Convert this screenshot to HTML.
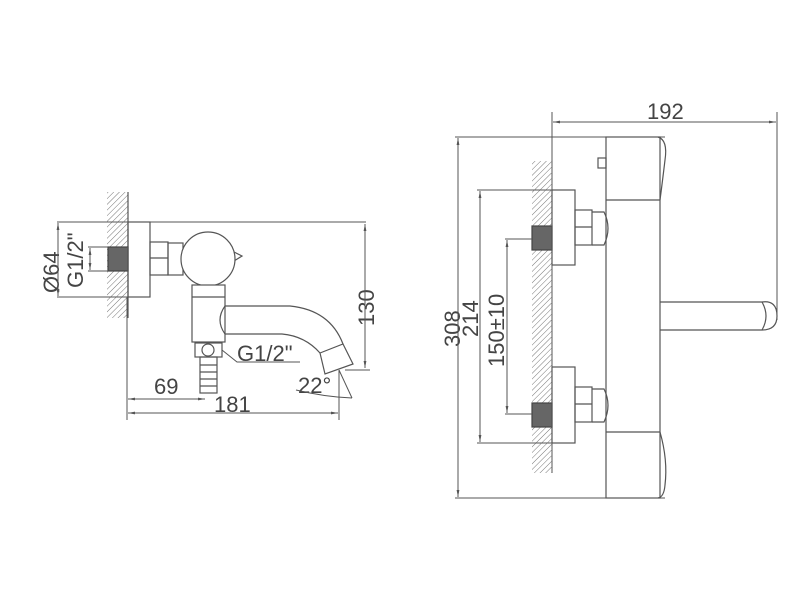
<!DOCTYPE html>
<html><head><style>body{margin:0;background:#fff}svg{display:block}</style></head><body>
<svg width="800" height="600" viewBox="0 0 800 600" xmlns="http://www.w3.org/2000/svg" font-family="Liberation Sans, sans-serif" fill="none" stroke="#555" stroke-width="1.2">
<defs>
<pattern id="h" width="4" height="4" patternUnits="userSpaceOnUse" patternTransform="rotate(45)"><line x1="0" y1="0" x2="0" y2="4" stroke="#777" stroke-width="1"/></pattern>
<marker id="a" viewBox="0 0 10 10" refX="10" refY="5" markerWidth="7" markerHeight="7" orient="auto-start-reverse"><path d="M0,3L10,5L0,7z" fill="#555" stroke="none"/></marker>
</defs>
<g font-size="22" fill="#444" stroke="none">
<text transform="translate(59,293) rotate(-90)">Ø64</text>
<text transform="translate(83,288) rotate(-90)">G1/2"</text>
<text x="237" y="361">G1/2"</text>
<text transform="translate(374,326) rotate(-90)">130</text>
<text x="298" y="393">22°</text>
<text x="154" y="394">69</text>
<text x="214" y="412">181</text>
<text x="647" y="119">192</text>
<text transform="translate(460,347) rotate(-90)">308</text>
<text transform="translate(478,337) rotate(-90)">214</text>
<text transform="translate(504,367) rotate(-90)">150±10</text>
</g>
<!-- LEFT VIEW -->
<rect x="107" y="192" width="21" height="126" fill="url(#h)" stroke="none"/>
<line x1="128" y1="192" x2="128" y2="318"/>
<rect x="108" y="247" width="20" height="24" fill="#666" stroke="#444"/>
<rect x="128" y="222" width="22" height="75"/>
<line x1="57" y1="222" x2="366" y2="222" stroke-width="1"/>
<line x1="57" y1="297" x2="128" y2="297" stroke-width="1"/>
<line x1="58" y1="223" x2="58" y2="296" marker-start="url(#a)" marker-end="url(#a)" stroke-width="1"/>
<line x1="88" y1="247" x2="108" y2="247" stroke-width="1"/>
<line x1="88" y1="271" x2="108" y2="271" stroke-width="1"/>
<line x1="90" y1="248" x2="90" y2="270" marker-start="url(#a)" marker-end="url(#a)" stroke-width="1"/>
<rect x="150" y="242" width="18" height="33"/>
<line x1="150" y1="258" x2="168" y2="258"/>
<rect x="168" y="243" width="15" height="32"/>
<path d="M234,252 l8,4 l-8,5"/>
<circle cx="208" cy="259" r="27" fill="#fff"/>
<rect x="192" y="285" width="33" height="57" fill="#fff"/>
<line x1="192" y1="297" x2="225" y2="297"/>
<path d="M225,306 L290,306 Q330,310 343,344"/>
<path d="M225,334 L282,334 Q305,336 320,353"/>
<path d="M225,306 Q215,320 225,334" />
<polygon points="320,353 343,344 353,364 325,374" fill="#fff"/>
<rect x="195" y="343" width="27" height="14"/>
<circle cx="208" cy="350" r="6"/>
<rect x="200" y="357" width="17" height="36"/>
<path d="M200,365h17M200,372h17M200,379h17M200,386h17"/>
<path d="M222,350 L237,362 L300,362" stroke-width="1"/>
<line x1="365" y1="224" x2="365" y2="368" marker-start="url(#a)" marker-end="url(#a)" stroke-width="1"/>
<line x1="345" y1="370" x2="370" y2="370" stroke-width="1"/>
<line x1="339" y1="370" x2="339" y2="420" stroke-width="1"/>
<path d="M339,370 L352,398" stroke-width="1"/>
<path d="M296,390 Q325,397 352,398" stroke-width="1"/>
<line x1="127" y1="297" x2="127" y2="420" stroke-width="1"/>
<line x1="128" y1="399" x2="205" y2="399" marker-start="url(#a)" marker-end="url(#a)" stroke-width="1"/>
<line x1="128" y1="413" x2="338" y2="413" marker-start="url(#a)" marker-end="url(#a)" stroke-width="1"/>
<!-- RIGHT VIEW -->
<line x1="552" y1="112" x2="552" y2="473" stroke-width="1"/>
<line x1="777" y1="112" x2="777" y2="320" stroke-width="1"/>
<line x1="553" y1="122" x2="776" y2="122" marker-start="url(#a)" marker-end="url(#a)" stroke-width="1"/>
<line x1="455" y1="137" x2="665" y2="137" stroke-width="1"/>
<line x1="455" y1="498" x2="665" y2="498" stroke-width="1"/>
<line x1="458" y1="138" x2="458" y2="497" marker-start="url(#a)" marker-end="url(#a)" stroke-width="1"/>
<rect x="532" y="161" width="20" height="312" fill="url(#h)" stroke="none"/>
<rect x="532" y="226" width="20" height="24" fill="#666" stroke="#444"/>
<rect x="532" y="403" width="20" height="24" fill="#666" stroke="#444"/>
<line x1="477" y1="190" x2="575" y2="190" stroke-width="1"/>
<line x1="477" y1="443" x2="575" y2="443" stroke-width="1"/>
<line x1="480" y1="191" x2="480" y2="442" marker-start="url(#a)" marker-end="url(#a)" stroke-width="1"/>
<line x1="505" y1="239" x2="532" y2="239" stroke-width="1"/>
<line x1="505" y1="414" x2="532" y2="414" stroke-width="1"/>
<line x1="507" y1="240" x2="507" y2="413" marker-start="url(#a)" marker-end="url(#a)" stroke-width="1"/>
<rect x="552" y="190" width="23" height="75"/>
<rect x="552" y="367" width="23" height="76"/>
<rect x="575" y="210" width="17" height="35"/><line x1="575" y1="227" x2="592" y2="227"/>
<rect x="575" y="387" width="17" height="35"/><line x1="575" y1="404" x2="592" y2="404"/>
<path d="M592,212 L604,212 Q612,228 604,245 L592,245"/>
<path d="M592,389 L604,389 Q612,405 604,422 L592,422"/>
<rect x="606" y="137" width="54" height="361"/>
<line x1="606" y1="200" x2="660" y2="200"/>
<line x1="606" y1="432" x2="660" y2="432"/>
<path d="M658,137 Q668,140 665,160 Q662,185 660,200"/>
<path d="M660,432 Q668,460 665,485 Q664,497 658,498"/>
<rect x="598" y="158" width="8" height="10"/>
<path d="M660,302 L762,302 Q777,300 777,316 Q777,330 762,330 L660,330"/>
<path d="M762,302 Q770,316 762,330"/>
</svg>
</body></html>
